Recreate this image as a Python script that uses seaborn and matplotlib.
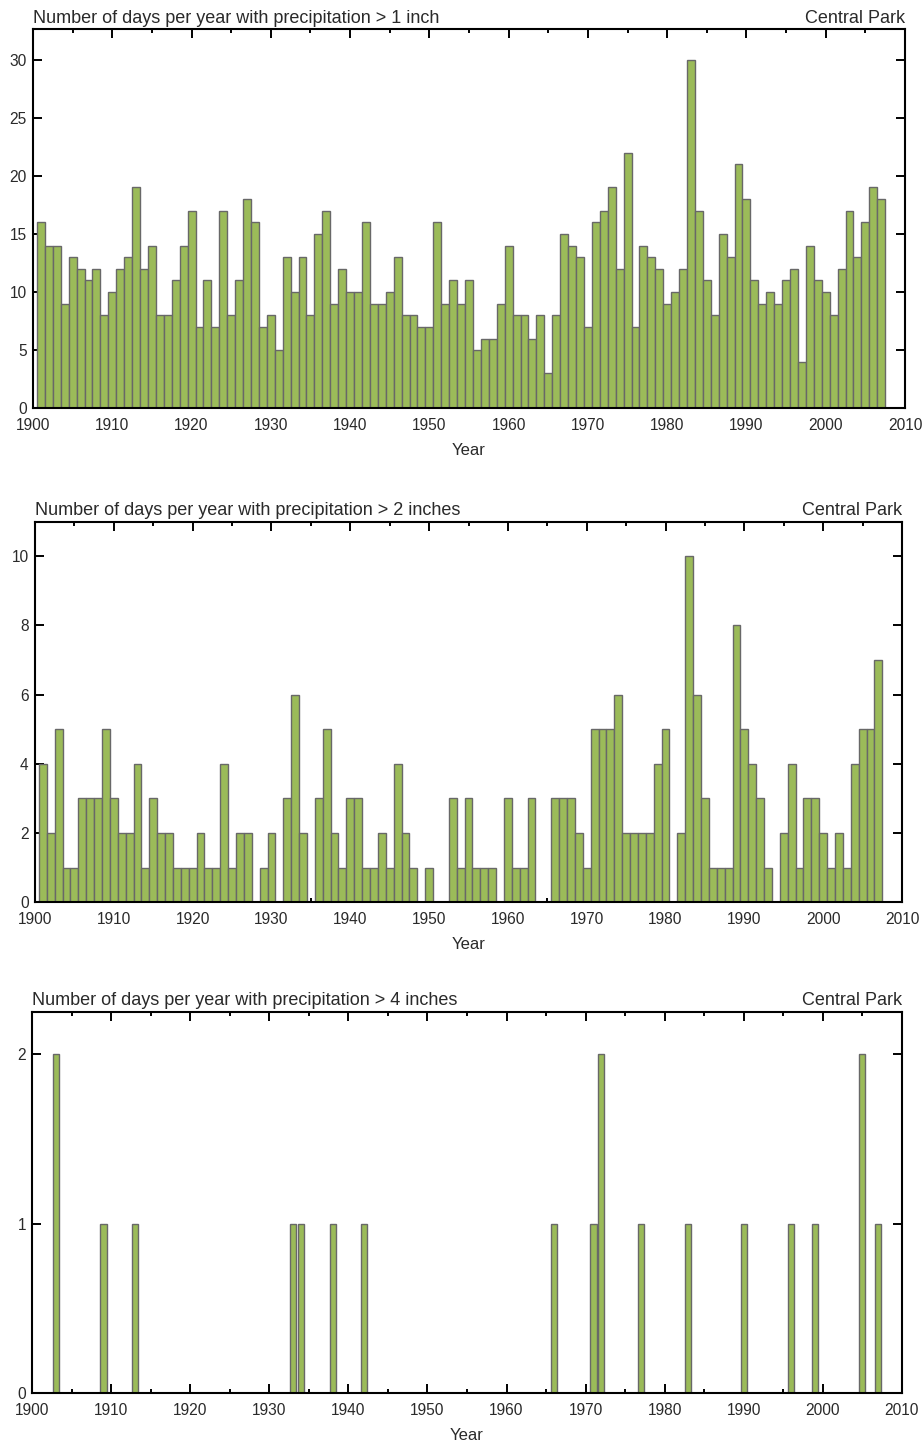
import matplotlib
matplotlib.use("Agg")
import matplotlib.pyplot as plt
from matplotlib.ticker import MultipleLocator, NullLocator, FormatStrFormatter
import seaborn as sns

# Central Park, NY: annual count of days with heavy precipitation
years = list(range(1901, 2008))

days_over_1in = [
    16, 14, 14, 9, 13, 12, 11, 12, 8, 10,      # 1901-1910
    12, 13, 19, 12, 14, 8, 8, 11, 14, 17,      # 1911-1920
    7, 11, 7, 17, 8, 11, 18, 16, 7, 8,         # 1921-1930
    5, 13, 10, 13, 8, 15, 17, 9, 12, 10,       # 1931-1940
    10, 16, 9, 9, 10, 13, 8, 8, 7, 7,          # 1941-1950
    16, 9, 11, 9, 11, 5, 6, 6, 9, 14,          # 1951-1960
    8, 8, 6, 8, 3, 8, 15, 14, 13, 7,           # 1961-1970
    16, 17, 19, 12, 22, 7, 14, 13, 12, 9,      # 1971-1980
    10, 12, 30, 17, 11, 8, 15, 13, 21, 18,     # 1981-1990
    11, 9, 10, 9, 11, 12, 4, 14, 11, 10,       # 1991-2000
    8, 12, 17, 13, 16, 19, 18,                 # 2001-2007
]

days_over_2in = [
    4, 2, 5, 1, 1, 3, 3, 3, 5, 3,              # 1901-1910
    2, 2, 4, 1, 3, 2, 2, 1, 1, 1,              # 1911-1920
    2, 1, 1, 4, 1, 2, 2, 0, 1, 2,              # 1921-1930
    0, 3, 6, 2, 0, 3, 5, 2, 1, 3,              # 1931-1940
    3, 1, 1, 2, 1, 4, 2, 1, 0, 1,              # 1941-1950
    0, 0, 3, 1, 3, 1, 1, 1, 0, 3,              # 1951-1960
    1, 1, 3, 0, 0, 3, 3, 3, 2, 1,              # 1961-1970
    5, 5, 5, 6, 2, 2, 2, 2, 4, 5,              # 1971-1980
    0, 2, 10, 6, 3, 1, 1, 1, 8, 5,             # 1981-1990
    4, 3, 1, 0, 2, 4, 1, 3, 3, 2,              # 1991-2000
    1, 2, 1, 4, 5, 5, 7,                       # 2001-2007
]

# > 4 inches: only the years with at least one such day
years_over_4in = [1903, 1909, 1913, 1933, 1934, 1938, 1942, 1966, 1971,
                  1972, 1977, 1983, 1990, 1996, 1999, 2005, 2007]
days_over_4in = [2, 1, 1, 1, 1, 1, 1, 1, 1,
                 2, 1, 1, 1, 1, 1, 2, 1]

titles = [
    "Number of days per year with precipitation > 1 inch",
    "Number of days per year with precipitation > 2 inches",
    "Number of days per year with precipitation > 4 inches",
]
station = "Central Park"

BAR = "#9bbb59"
EDGE = "#686868"
INK = "#2a2a2a"
TICK_FS = 11.2
TITLE_FS = 13.0
LABEL_FS = 12.0

sns.set_theme(style="white")
plt.rcParams["font.family"] = ["Liberation Sans", "DejaVu Sans"]

W, H = 922, 1444
fig = plt.figure(figsize=(W / 100, H / 100), dpi=100)


def axes_px(left, right, top, bottom):
    return fig.add_axes([left / W, 1 - bottom / H, (right - left) / W, (bottom - top) / H])


panels = [
    dict(box=(33, 905, 29.3, 408.3), x=years, y=days_over_1in, width=1.0,
         ylim=32.6, ystep=5, title=titles[0]),
    dict(box=(35, 902, 521.7, 902.3), x=years, y=days_over_2in, width=1.0,
         ylim=11.0, ystep=2, title=titles[1]),
    dict(box=(32.3, 901.7, 1011.7, 1393.3), x=years_over_4in, y=days_over_4in, width=0.78,
         ylim=2.25, ystep=1, title=titles[2]),
]

for p in panels:
    ax = axes_px(*p["box"])
    sns.barplot(x=p["x"], y=p["y"], native_scale=True, width=p["width"],
                color=BAR, saturation=1, edgecolor=EDGE, linewidth=1.0,
                errorbar=None, zorder=2, ax=ax)
    ax.set_xlim(1900, 2010)
    ax.set_ylim(0, p["ylim"])
    ax.xaxis.set_major_locator(MultipleLocator(10))
    ax.xaxis.set_minor_locator(MultipleLocator(5))
    ax.yaxis.set_major_locator(MultipleLocator(p["ystep"]))
    ax.yaxis.set_minor_locator(NullLocator())
    ax.xaxis.set_major_formatter(FormatStrFormatter("%d"))
    ax.yaxis.set_major_formatter(FormatStrFormatter("%d"))

    ax.tick_params(which="both", direction="in", top=True, right=True,
                   bottom=True, left=True, color="black", width=1.4,
                   labelsize=TICK_FS, labelcolor=INK)
    ax.tick_params(which="major", length=6.2)
    ax.tick_params(which="minor", length=2.6)
    ax.tick_params(axis="x", which="major", pad=7)
    ax.tick_params(axis="y", which="major", pad=4.5)

    for s in ax.spines.values():
        s.set_visible(True)
        s.set_color("black")
        s.set_linewidth(1.5)
        s.set_zorder(3)

    ax.set_xlabel("Year", fontsize=LABEL_FS, color=INK, labelpad=7)
    ax.set_ylabel("")
    ax.set_title(p["title"], loc="left", fontsize=TITLE_FS, color=INK, pad=4.8)
    ax.set_title(station, loc="right", fontsize=TITLE_FS, color=INK, pad=4.8)

fig.savefig("out.png", dpi=100)
